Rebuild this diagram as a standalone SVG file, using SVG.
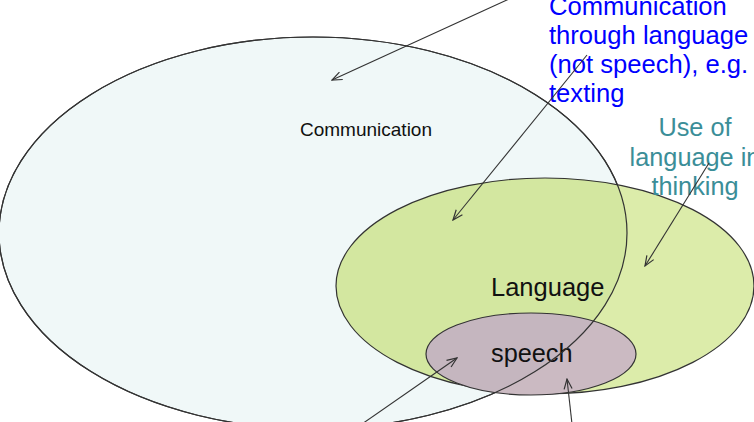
<svg xmlns="http://www.w3.org/2000/svg" width="754" height="422" viewBox="0 0 754 422">
  <style>
    .outline { fill: none; stroke: #333333; stroke-width: 1.2; }
    .lbl { font-family: "Liberation Sans", Arial, sans-serif; fill: #111111; }
    .blue { font-family: "Liberation Sans", Arial, sans-serif; fill: #0000ff; font-size: 25.6px; }
    .teal { font-family: "Liberation Sans", Arial, sans-serif; fill: #3b8e98; font-size: 25.3px; text-anchor: middle; }
    .conn { fill: none; stroke: #333333; stroke-width: 1.1; }
  </style>
  <defs>
    <marker id="arr" viewBox="0 0 12 10" refX="11" refY="5" markerWidth="12" markerHeight="10" markerUnits="userSpaceOnUse" orient="auto">
      <path d="M1,1 L11,5 L1,9" fill="none" stroke="#333333" stroke-width="1.2"/>
    </marker>
    <clipPath id="commClip">
      <ellipse cx="313" cy="233" rx="314" ry="196"/>
    </clipPath>
  </defs>
  <rect width="754" height="422" fill="#ffffff"/>

  <g id="node-communication">
    <ellipse cx="313" cy="233" rx="314" ry="196" fill="#f0f8f8" stroke="#333333" stroke-width="1.2"/>
    <text class="lbl" x="300" y="136" font-size="19">Communication</text>
  </g>

  <g id="node-language">
    <ellipse cx="545" cy="286" rx="209" ry="108" fill="#dcecaa"/>
    <ellipse cx="545" cy="286" rx="209" ry="108" fill="#d3e7a0" clip-path="url(#commClip)"/>
    <ellipse class="outline" cx="545" cy="286" rx="209" ry="108"/>
    <text class="lbl" x="491" y="296" font-size="25.5">Language</text>
  </g>

  <g id="node-speech">
    <ellipse cx="531" cy="354" rx="105" ry="41" fill="#cbbac2"/>
    <ellipse cx="531" cy="354" rx="105" ry="41" fill="#c5b6bf" clip-path="url(#commClip)"/>
    <ellipse class="outline" cx="531" cy="354" rx="105" ry="41"/>
    <text class="lbl" x="491" y="362" font-size="25.3">speech</text>
  </g>

  <g id="communication-outline">
    <ellipse class="outline" cx="313" cy="233" rx="314" ry="196"/>
  </g>

  <g id="note-texting">
    <text class="blue" x="549" y="14.5">Communication</text>
    <text class="blue" x="549" y="43.5">through language</text>
    <text class="blue" x="549" y="72.5">(not speech), e.g.</text>
    <text class="blue" x="549" y="101.5">texting</text>
  </g>

  <g id="note-thinking">
    <text class="teal" x="695" y="136">Use of</text>
    <text class="teal" x="695" y="166">language in</text>
    <text class="teal" x="695" y="195">thinking</text>
  </g>

  <g id="connectors">
    <line class="conn" x1="520" y1="-6" x2="332" y2="80" marker-end="url(#arr)"/>
    <line class="conn" x1="587" y1="55" x2="453" y2="220" marker-end="url(#arr)"/>
    <line class="conn" x1="709" y1="163" x2="645" y2="266" marker-end="url(#arr)"/>
    <line class="conn" x1="362" y1="424" x2="457" y2="358" marker-end="url(#arr)"/>
    <line class="conn" x1="572" y1="424" x2="567" y2="379" marker-end="url(#arr)"/>
  </g>
</svg>
